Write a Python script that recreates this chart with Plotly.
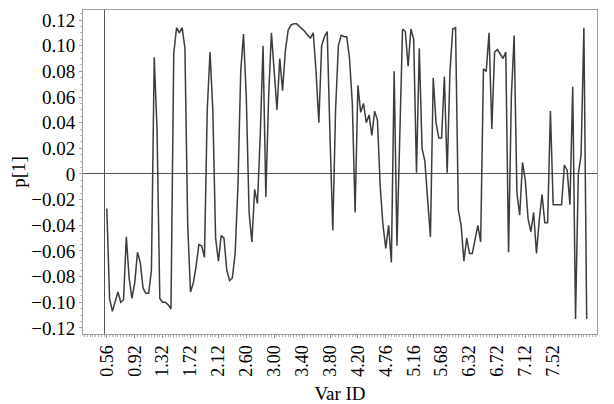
import plotly.graph_objects as go

# Loading values p[1] for each variable (in order)
p1 = [
    -0.027, -0.097, -0.107, -0.100, -0.092, -0.100, -0.098, -0.049, -0.081, -0.097,
    -0.085, -0.061, -0.069, -0.089, -0.093, -0.093, -0.075, 0.091, 0.035, -0.097,
    -0.100, -0.100, -0.102, -0.105, 0.094, 0.114, 0.110, 0.114, 0.098, -0.040,
    -0.092, -0.085, -0.072, -0.055, -0.056, -0.065, 0.050, 0.095, 0.050, -0.050,
    -0.068, -0.048, -0.050, -0.075, -0.083, -0.081, -0.062, -0.010, 0.080, 0.109,
    0.060, -0.030, -0.053, -0.012, -0.023, 0.030, 0.100, -0.018, 0.060, 0.110,
    0.080, 0.050, 0.090, 0.065, 0.096, 0.112, 0.116, 0.117, 0.117, 0.115,
    0.113, 0.111, 0.108, 0.106, 0.110, 0.080, 0.040, 0.100, 0.107, 0.111,
    0.030, -0.044, 0.050, 0.100, 0.108, 0.107, 0.107, 0.090, 0.055, -0.030,
    0.069, 0.048, 0.055, 0.040, 0.046, 0.030, 0.049, 0.042, -0.010, -0.040,
    -0.058, -0.040, -0.069, 0.080, -0.056, 0.020, 0.113, 0.111, 0.084, 0.113,
    0.105, 0.001, 0.098, 0.020, 0.010, -0.020, -0.049, 0.075, 0.040, 0.028,
    0.028, 0.076, 0.001, 0.080, 0.113, 0.114, -0.028, -0.040, -0.068, -0.050,
    -0.062, -0.062, -0.050, -0.040, -0.053, 0.082, 0.080, 0.110, 0.035, 0.095,
    0.097, 0.093, 0.090, 0.095, -0.061, 0.060, 0.108, -0.015, -0.032, 0.009,
    -0.005, -0.035, -0.045, -0.030, -0.062, -0.036, -0.016, -0.038, -0.038, 0.049,
    -0.024, -0.024, -0.024, -0.024, 0.007, 0.003, -0.024, 0.068, -0.113, 0.000,
    0.015, 0.114, -0.113,
]
var_index = list(range(1, len(p1) + 1))

tick_positions = list(range(1, 162, 10))
tick_labels = ["0.56", "0.92", "1.32", "1.72", "2.12", "2.60", "3.00", "3.40", "3.80",
               "4.20", "4.76", "5.16", "5.68", "6.32", "6.72", "7.12", "7.52"]
y_ticks = [-0.12, -0.10, -0.08, -0.06, -0.04, -0.02, 0, 0.02, 0.04, 0.06, 0.08, 0.10, 0.12]
y_tick_labels = ["−0.12", "−0.10", "−0.08", "−0.06", "−0.04", "−0.02", "0",
                 "0.02", "0.04", "0.06", "0.08", "0.10", "0.12"]

font_family = "Liberation Serif"

fig = go.Figure()
fig.add_trace(go.Scatter(
    x=var_index, y=p1, mode="lines",
    line=dict(color="#3c3c3c", width=1.5),
    showlegend=False, hoverinfo="skip",
))

# page body has an 8px default margin, so the figure is shifted by 8px
fig.update_layout(
    width=606, height=396,
    margin=dict(l=75, r=17, t=2, b=70),
    paper_bgcolor="white", plot_bgcolor="white",
    font=dict(family=font_family, size=19, color="black"),
)
fig.update_xaxes(
    automargin=False,
    range=[-7.53, 176.7],
    tickmode="array", tickvals=tick_positions, ticktext=tick_labels,
    tickangle=-90, tickfont=dict(family=font_family, size=18),
    ticks="outside", ticklen=3, tickcolor="#888",
    minor=dict(dtick=1, tick0=0, ticks="outside", ticklen=2, tickcolor="#aaa"),
    showgrid=False,
    showline=True, linecolor="#a0a0a0", linewidth=1, mirror=True,
    zeroline=True, zerolinecolor="#555", zerolinewidth=1,
    title=dict(text="Var ID", font=dict(family=font_family, size=19), standoff=11),
)
fig.update_yaxes(
    automargin=False,
    range=[-0.1247, 0.1278],
    tickmode="array", tickvals=y_ticks, ticktext=y_tick_labels,
    tickfont=dict(family=font_family, size=19),
    ticks="outside", ticklen=3, tickcolor="#999",
    minor=dict(dtick=0.005, ticks="outside", ticklen=2, tickcolor="#bbb"),
    showgrid=False,
    showline=True, linecolor="#a0a0a0", linewidth=1, mirror=True,
    zeroline=True, zerolinecolor="#555", zerolinewidth=1,
    title=dict(text="p[1]", font=dict(family=font_family, size=19), standoff=8),
)

fig.write_html("out.html")
